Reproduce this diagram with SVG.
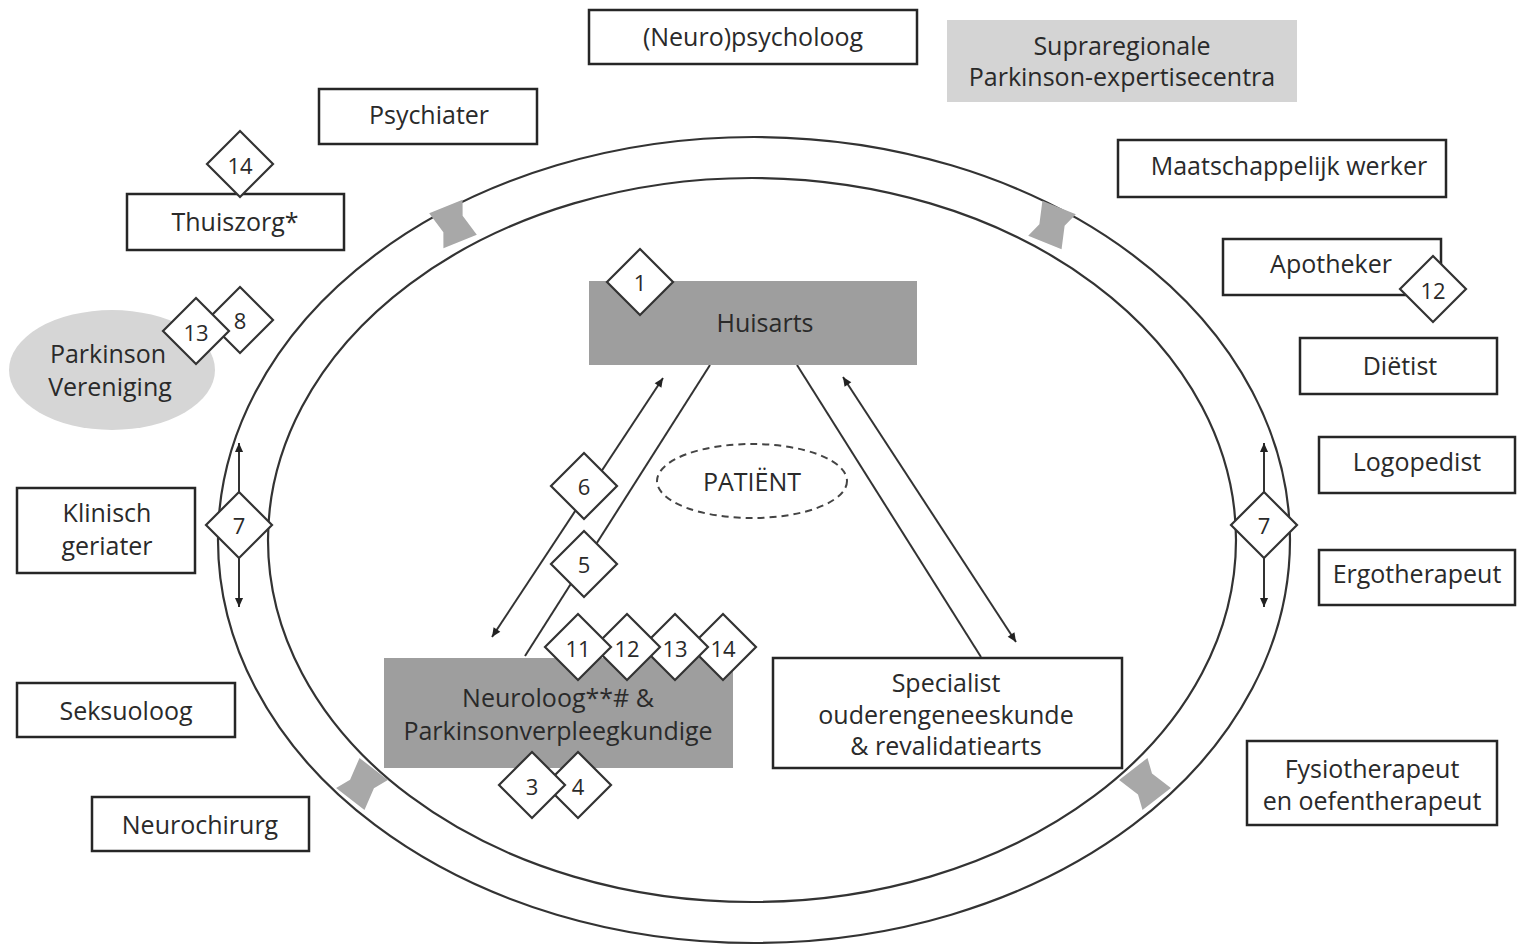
<svg xmlns="http://www.w3.org/2000/svg" width="1517" height="947" viewBox="0 0 1517 947">
<style>
.bx{fill:#fff;stroke:#262626;stroke-width:2.5}
.gbx{fill:#9e9e9e;stroke:none}
.lt{fill:#d4d4d4;stroke:none}
.t{font-family:"Open Sans","Noto Sans",sans-serif;font-size:25px;fill:#2a2a2a;text-anchor:middle;dominant-baseline:central}
.n{font-family:"Open Sans","Noto Sans",sans-serif;font-size:22px;fill:#2a2a2a;text-anchor:middle;dominant-baseline:central}
.dm{fill:#fff;stroke:#333;stroke-width:2.2}
.ln{fill:none;stroke:#333;stroke-width:2}
.ell{fill:none;stroke:#333;stroke-width:2.2}
.ga{fill:#a8a8a8;stroke:none}
</style>
<defs>
<marker id="ah" viewBox="0 0 10 10" refX="10" refY="5" markerWidth="14" markerHeight="9" orient="auto-start-reverse" markerUnits="userSpaceOnUse"><path d="M0,0.5 L10,5 L0,9.5 z" fill="#222"/></marker>
<polygon id="dia" points="0,-33 33,0 0,33 -33,0"/>
<polygon id="garrow" points="-18,-19 18,-19 12,-4 18,19 -18,19 -12,4"/>
</defs>
<rect width="1517" height="947" fill="#fff"/>

<g id="ring">
<ellipse class="ell" cx="754" cy="540" rx="536" ry="403"/>
<ellipse class="ell" cx="752" cy="540" rx="484" ry="362"/>
<use href="#garrow" class="ga" transform="translate(453,224) rotate(-22)"/>
<use href="#garrow" class="ga" transform="translate(1052,225) rotate(22)"/>
<use href="#garrow" class="ga" transform="translate(362,784) rotate(38)"/>
<use href="#garrow" class="ga" transform="translate(1145,784) rotate(-38)"/>
</g>

<g id="connectors">
<line class="ln" x1="492" y1="637" x2="663" y2="378" marker-start="url(#ah)" marker-end="url(#ah)"/>
<line class="ln" x1="525" y1="656" x2="710" y2="365"/>
<line class="ln" x1="797" y1="365" x2="981" y2="657"/>
<line class="ln" x1="843" y1="377" x2="1016" y2="642" marker-start="url(#ah)" marker-end="url(#ah)"/>
<line class="ln" x1="239" y1="492" x2="239" y2="443" marker-end="url(#ah)"/>
<line class="ln" x1="239" y1="558" x2="239" y2="607" marker-end="url(#ah)"/>
<line class="ln" x1="1264" y1="492" x2="1264" y2="443" marker-end="url(#ah)"/>
<line class="ln" x1="1264" y1="558" x2="1264" y2="607" marker-end="url(#ah)"/>
</g>

<g id="neuropsycholoog"><rect class="bx" x="589" y="10" width="328" height="54"/><text class="t" x="753" y="36">(Neuro)psycholoog</text></g>
<g id="supraregionale"><rect class="lt" x="947" y="20" width="350" height="82"/><text class="t" x="1122" y="45">Supraregionale</text><text class="t" x="1122" y="76">Parkinson-expertisecentra</text></g>
<g id="psychiater"><rect class="bx" x="319" y="89" width="218" height="55"/><text class="t" x="429" y="114">Psychiater</text></g>
<g id="maatschappelijk"><rect class="bx" x="1118" y="140" width="328" height="57"/><text class="t" x="1289" y="165">Maatschappelijk werker</text></g>
<g id="thuiszorg"><rect class="bx" x="127" y="194" width="217" height="56"/><text class="t" x="235" y="221">Thuiszorg*</text>
<use href="#dia" class="dm" x="240" y="164"/><text class="n" x="240" y="165">14</text></g>
<g id="apotheker"><rect class="bx" x="1223" y="239" width="218" height="56"/><text class="t" x="1331" y="263">Apotheker</text>
<use href="#dia" class="dm" x="1433" y="289"/><text class="n" x="1433" y="290">12</text></g>
<g id="dietist"><rect class="bx" x="1300" y="338" width="197" height="56"/><text class="t" x="1400" y="365">Diëtist</text></g>
<g id="logopedist"><rect class="bx" x="1319" y="437" width="196" height="56"/><text class="t" x="1417" y="461">Logopedist</text></g>
<g id="ergotherapeut"><rect class="bx" x="1319" y="550" width="196" height="55"/><text class="t" x="1417" y="573">Ergotherapeut</text></g>
<g id="fysiotherapeut"><rect class="bx" x="1247" y="741" width="250" height="84"/><text class="t" x="1372" y="768">Fysiotherapeut</text><text class="t" x="1372" y="800">en oefentherapeut</text></g>
<g id="klinisch"><rect class="bx" x="17" y="488" width="178" height="85"/><text class="t" x="107" y="512">Klinisch</text><text class="t" x="107" y="545">geriater</text></g>
<g id="seksuoloog"><rect class="bx" x="17" y="683" width="218" height="54"/><text class="t" x="126" y="710">Seksuoloog</text></g>
<g id="neurochirurg"><rect class="bx" x="92" y="797" width="217" height="54"/><text class="t" x="200" y="824">Neurochirurg</text></g>
<g id="parkinsonvereniging"><ellipse cx="112" cy="370" rx="103" ry="60" fill="#d6d6d6"/><text class="t" x="108" y="353">Parkinson</text><text class="t" x="110" y="386">Vereniging</text>
<use href="#dia" class="dm" x="240" y="320"/><text class="n" x="240" y="320">8</text>
<use href="#dia" class="dm" x="196" y="331"/><text class="n" x="196" y="332">13</text></g>
<g id="huisarts"><rect class="gbx" x="589" y="281" width="328" height="84"/><text class="t" x="765" y="322">Huisarts</text>
<use href="#dia" class="dm" x="640" y="282"/><text class="n" x="640" y="282">1</text></g>
<g id="patient"><ellipse cx="752" cy="481" rx="95" ry="37" fill="none" stroke="#444" stroke-width="2" stroke-dasharray="7,5"/><text class="t" x="752" y="481">PATIËNT</text></g>
<g id="neuroloog"><rect class="gbx" x="384" y="658" width="349" height="110"/><text class="t" x="558" y="697">Neuroloog**# &amp;</text><text class="t" x="558" y="730">Parkinsonverpleegkundige</text>
<use href="#dia" class="dm" x="723" y="647"/><text class="n" x="723" y="648">14</text>
<use href="#dia" class="dm" x="675" y="647"/><text class="n" x="675" y="648">13</text>
<use href="#dia" class="dm" x="627" y="647"/><text class="n" x="627" y="648">12</text>
<use href="#dia" class="dm" x="578" y="647"/><text class="n" x="578" y="648">11</text>
<use href="#dia" class="dm" x="578" y="785"/><text class="n" x="578" y="786">4</text>
<use href="#dia" class="dm" x="532" y="785"/><text class="n" x="532" y="786">3</text></g>
<g id="specialist"><rect class="bx" x="773" y="658" width="349" height="110"/><text class="t" x="946" y="682">Specialist</text><text class="t" x="946" y="714">ouderengeneeskunde</text><text class="t" x="946" y="745">&amp; revalidatiearts</text></g>
<g id="d6"><use href="#dia" class="dm" x="584" y="486"/><text class="n" x="584" y="486">6</text></g>
<g id="d5"><use href="#dia" class="dm" x="584" y="564"/><text class="n" x="584" y="564">5</text></g>
<g id="d7l"><use href="#dia" class="dm" x="239" y="525"/><text class="n" x="239" y="525">7</text></g>
<g id="d7r"><use href="#dia" class="dm" x="1264" y="525"/><text class="n" x="1264" y="525">7</text></g>
</svg>
